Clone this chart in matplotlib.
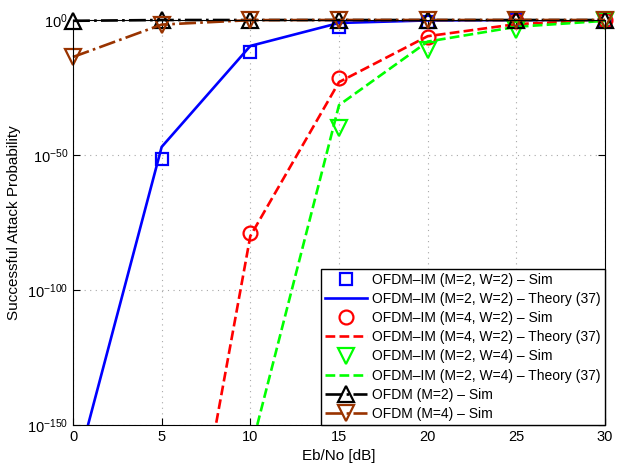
import numpy as np
import matplotlib
matplotlib.use("Agg")
import matplotlib.pyplot as plt

plt.rcParams['font.family'] = ['Liberation Sans', 'DejaVu Sans']
plt.rcParams['mathtext.fontset'] = 'custom'
plt.rcParams['mathtext.rm'] = 'Liberation Sans'
plt.rcParams['mathtext.it'] = 'Liberation Sans:italic'

# Eb/No grid
snr = [0, 5, 10, 15, 20, 25, 30]

# OFDM-IM (M=2, W=2)
sim_m2w2_x = [5, 10, 15, 20, 25, 30]
sim_m2w2 = [3e-52, 1e-12, 3e-3, 0.25, 0.9, 1.0]
th_m2w2 = [1e-171, 1e-47, 2.5e-10, 0.08, 0.7, 0.95, 1.0]

# OFDM-IM (M=4, W=2)
sim_m4w2_x = [10, 15, 20, 25, 30]
sim_m4w2 = [1e-79, 3e-22, 5e-7, 0.3, 1.0]
th_m4w2_x = [5, 10, 15, 20, 25, 30]
th_m4w2 = [1e-260, 1e-80, 1e-23, 1e-6, 0.03, 0.9]

# OFDM-IM (M=2, W=4)
sim_m2w4_x = [15, 20, 25, 30]
sim_m2w4 = [1e-40, 1e-11, 2e-4, 0.3]
th_m2w4_x = [10, 15, 20, 25, 30]
th_m2w4 = [1e-160, 3e-32, 1e-8, 3e-3, 0.5]

# plain OFDM
ofdm_m2 = [0.5, 1.0, 1.0, 1.0, 1.0, 1.0, 1.0]
ofdm_m4 = [2e-14, 0.02, 0.9, 1.0, 1.0, 1.0, 1.0]

brown = (0.6, 0.2, 0.0)
green = (0, 1, 0)

fig = plt.figure(figsize=(6.25, 4.63), dpi=100)
ax = fig.add_axes([0.1168, 0.082, 0.8512, 0.8748])

ms = 9
mew = 1.6
lw = 1.9

ax.plot(sim_m2w2_x, sim_m2w2, ls='none', marker='s', ms=ms, mfc='none', mec='blue', mew=mew,
        clip_on=False, label="OFDM\u2013IM (M=2, W=2) \u2013 Sim")
ax.plot(snr, th_m2w2, color='blue', lw=lw, label="OFDM\u2013IM (M=2, W=2) \u2013 Theory (37)")
ax.plot(sim_m4w2_x, sim_m4w2, ls='none', marker='o', ms=ms + 1, mfc='none', mec='red', mew=mew,
        clip_on=False, label="OFDM\u2013IM (M=4, W=2) \u2013 Sim")
ax.plot(th_m4w2_x, th_m4w2, color='red', lw=lw, ls='--', label="OFDM\u2013IM (M=4, W=2) \u2013 Theory (37)")
ax.plot(sim_m2w4_x, sim_m2w4, ls='none', marker='v', ms=ms + 2, mfc='none', mec=green, mew=mew,
        clip_on=False, label="OFDM\u2013IM (M=2, W=4) \u2013 Sim")
ax.plot(th_m2w4_x, th_m2w4, color=green, lw=lw, ls='--', label="OFDM\u2013IM (M=2, W=4) \u2013 Theory (37)")
ax.plot(snr, ofdm_m2, color='black', lw=lw, ls='-.', marker='^', ms=ms + 2, mfc='none', mew=mew,
        clip_on=False, label="OFDM (M=2) \u2013 Sim")
ax.plot(snr, ofdm_m4, color=brown, lw=lw, ls='-.', marker='v', ms=ms + 2, mfc='none', mew=mew,
        clip_on=False, label="OFDM (M=4) \u2013 Sim")

ax.set_yscale('log')
ax.set_xlim(0, 30)
ax.set_ylim(1e-150, 1e0)
ax.set_xticks([0, 5, 10, 15, 20, 25, 30])
ax.set_yticks([1e-150, 1e-100, 1e-50, 1e0])
ax.yaxis.set_minor_locator(matplotlib.ticker.NullLocator())
ax.tick_params(direction='in', top=True, right=True, labelsize=10.5, length=5)
ax.grid(True, ls=(0, (1, 4)), color='#a8a8a8', lw=0.8)

ax.set_xlabel("Eb/No [dB]", fontsize=11)
ax.set_ylabel("Successful Attack Probability", fontsize=11)

leg = ax.legend(loc='lower right', fontsize=10, handlelength=3, labelspacing=0.37,
                borderaxespad=0, fancybox=False, edgecolor='black', framealpha=1,
                borderpad=0.3, handletextpad=0.4)
leg.get_frame().set_linewidth(1)

fig.savefig("out.png", dpi=100)
